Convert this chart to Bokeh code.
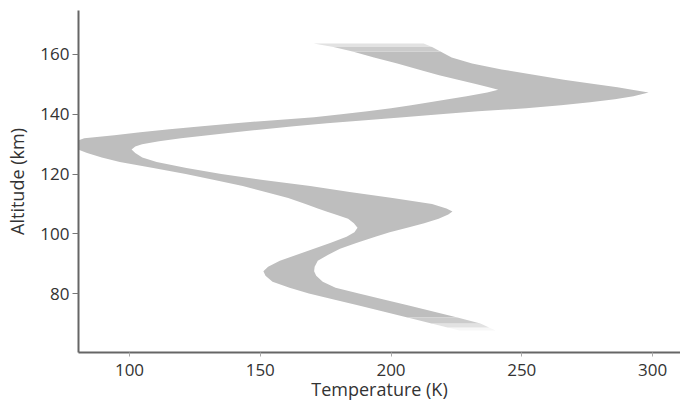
from bokeh.plotting import figure
from bokeh.models import FixedTicker, Range1d
from bokeh.embed import file_html
from bokeh.resources import INLINE

# Altitude levels (km) and the temperature envelope (K) read at each level
altitude_km = [67.7, 68.7, 70, 72, 74, 76, 78, 80, 82, 84, 86, 87.5, 89, 91, 93, 95, 97, 99,
               100.5, 102, 103.5, 105, 106.5, 107.5, 108.5, 110, 112, 114, 116, 118, 120, 122,
               124, 125.5, 127, 128.2, 129.2, 130, 131, 132, 133, 134, 135, 136, 137, 138, 139,
               140, 141, 142, 143, 144, 145, 146, 147.3, 148.2, 149, 150, 151.5, 153, 155, 157,
               159, 161, 162.5, 163.7]
temp_low_k = [226.2, 221.6, 215.5, 206.3, 197.0, 187.7, 178.1, 168.6, 161.2, 154.7, 152.0, 151.2,
              153.0, 157.5, 164.0, 170.5, 177.0, 183.0, 186.0, 187.2, 185.8, 183.6, 178.8, 175.3,
              172.0, 167.3, 160.7, 152.0, 143.3, 132.5, 121.5, 109.1, 96.3, 89.4, 83.8, 80.2,
              79.0, 78.3, 79.5, 82.7, 94.2, 104.1, 115.3, 127.7, 140.5, 155.4, 170.6, 181.0,
              191.0, 200.0, 207.7, 214.8, 221.8, 228.9, 236.8, 241.0, 237.4, 232.8, 225.6,
              218.4, 210.5, 202.4, 193.5, 185.3, 178.0, 170.4]
temp_high_k = [240.0, 237.5, 234.2, 225.4, 216.1, 206.8, 197.2, 187.7, 178.8, 173.9, 171.4, 170.6,
               170.8, 172.0, 176.0, 180.5, 187.0, 194.0, 199.5, 206.2, 212.7, 218.2, 221.9, 223.5,
               221.2, 215.7, 200.6, 184.2, 169.1, 151.1, 135.1, 121.8, 110.4, 104.9, 102.2, 100.8,
               102.2, 104.8, 111.3, 119.7, 130.0, 140.3, 151.5, 162.8, 175.5, 190.2, 204.7, 218.8,
               233.3, 251.7, 265.0, 276.1, 285.6, 292.7, 298.5, 292.2, 286.6, 278.3, 266.1,
               255.7, 242.3, 231.0, 223.2, 218.9, 215.7, 212.5]

x_ticks = [100, 150, 200, 250, 300]
y_ticks = [80, 100, 120, 140, 160]
x_title = "Temperature (K)"
y_title = "Altitude (km)"

# fading strength of the slices at the two ends of the band
fade_bottom = [0.12, 0.45, 0.8]
fade_top = [0.8, 0.45]

FONT = "Open Sans"


def shade(a):
    c = int(round(255 - a * (255 - 190)))
    return "#%02x%02x%02x" % (c, c, c)


p = figure(width=680, height=403, output_backend="svg", toolbar_location=None,
           x_range=Range1d(80.5, 310.7), y_range=Range1d(60.3, 174.7),
           min_border_left=78, min_border_right=0, min_border_top=10, min_border_bottom=51,
           background_fill_color="white", border_fill_color="white")
p.outline_line_color = None
p.grid.visible = False

n = len(altitude_km)
lo = len(fade_bottom)
hi = n - 1 - len(fade_top)

p.harea(x1=temp_low_k[lo:hi + 1], x2=temp_high_k[lo:hi + 1], y=altitude_km[lo:hi + 1],
        fill_color=shade(1.0))
for k, a in enumerate(fade_bottom):
    p.harea(x1=temp_low_k[k:k + 2], x2=temp_high_k[k:k + 2], y=altitude_km[k:k + 2],
            fill_color=shade(a))
for k, a in enumerate(fade_top):
    j = hi + k
    p.harea(x1=temp_low_k[j:j + 2], x2=temp_high_k[j:j + 2], y=altitude_km[j:j + 2],
            fill_color=shade(a))

p.xaxis.ticker = FixedTicker(ticks=x_ticks)
p.yaxis.ticker = FixedTicker(ticks=y_ticks)
p.xaxis.axis_label = x_title
p.yaxis.axis_label = y_title

for ax in (p.xaxis[0], p.yaxis[0]):
    ax.axis_line_color = "#666666"
    ax.axis_line_width = 2
    ax.major_label_text_font = FONT
    ax.major_label_text_font_size = "17px"
    ax.major_label_text_color = "#333333"
    ax.axis_label_text_font = FONT
    ax.axis_label_text_font_size = "18px"
    ax.axis_label_text_font_style = "normal"
    ax.axis_label_text_color = "#333333"
    ax.minor_tick_line_color = None
    ax.major_tick_in = 0

p.xaxis.major_tick_out = 4
p.xaxis.major_tick_line_color = "#aaaaaa"
p.xaxis.major_label_standoff = 7
p.xaxis.axis_label_standoff = -2

p.yaxis.major_tick_out = 6
p.yaxis.major_tick_line_color = "#777777"
p.yaxis.major_label_standoff = 3
p.yaxis.axis_label_standoff = 8

open("out.html", "w").write(file_html(p, INLINE))
